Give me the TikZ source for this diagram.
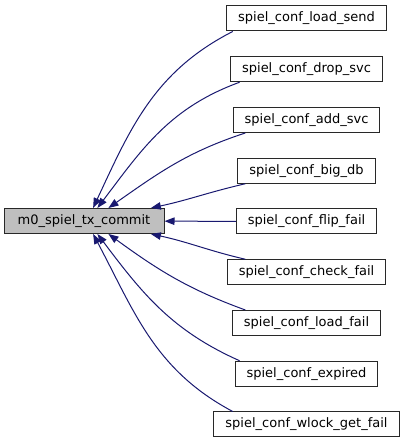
\documentclass[tikz,border=0pt]{standalone}
\usepackage{fontspec}
\setmainfont{DejaVu Sans}
\usepackage{tikz}
\usetikzlibrary{arrows.meta,positioning}
\definecolor{midnight}{RGB}{25,25,112}
\definecolor{boxgray}{RGB}{191,191,191}
\definecolor{boxline}{RGB}{40,40,40}
\tikzset{
  funcbox/.style={draw=boxline, line width=1pt, fill=white, inner xsep=11.5pt, inner ysep=0pt,
    minimum height=25pt, text height=9.6pt, text depth=3pt, font=\fontsize{13}{15}\selectfont},
  mainbox/.style={funcbox, fill=boxgray, minimum width=160pt},
  callflow/.style={draw=midnight, line width=1pt, -{Triangle[length=10pt,width=7.5pt]}, fill=none}
}
\begin{document}
\begin{tikzpicture}[x=1pt, y=1pt, node distance=24.75pt]
\useasboundingbox (0,0) rectangle (407,443);
\node[mainbox] (commit) at (84,222) {m0\_spiel\_tx\_commit};

\node[funcbox] (loadsend) at (306.5,424.5) {spiel\_conf\_load\_send};
\node[funcbox, below=of loadsend] (dropsvc) {spiel\_conf\_drop\_svc};
\node[funcbox, below=of dropsvc] (addsvc) {spiel\_conf\_add\_svc};
\node[funcbox, below=of addsvc] (bigdb) {spiel\_conf\_big\_db};
\node[funcbox, below=of bigdb] (flipfail) {spiel\_conf\_flip\_fail};
\node[funcbox, below=of flipfail] (checkfail) {spiel\_conf\_check\_fail};
\node[funcbox, below=of checkfail] (loadfail) {spiel\_conf\_load\_fail};
\node[funcbox, below=of loadfail] (expired) {spiel\_conf\_expired};
\node[funcbox, below=of expired] (wlockfail) {spiel\_conf\_wlock\_get\_fail};

% callers above
\draw[callflow] (loadsend.190) to[out=207, in=65] (commit.55);
\draw[callflow] (dropsvc.191) to[out=200, in=53] (commit.44);
\draw[callflow] (addsvc.192) to[out=198, in=35] (commit.28);
\draw[callflow] (bigdb.192) to[out=193, in=12] (commit.11.5);
\draw[callflow] (flipfail) -- (commit);
% callers below
\draw[callflow] (checkfail.168) to[out=167, in=-12] (commit.-11.5);
\draw[callflow] (loadfail.168) to[out=160, in=-36] (commit.-28);
\draw[callflow] (expired.169) to[out=156, in=-53] (commit.-44);
\draw[callflow] (wlockfail.170) to[out=152, in=-62] (commit.-55);
\end{tikzpicture}
\end{document}
